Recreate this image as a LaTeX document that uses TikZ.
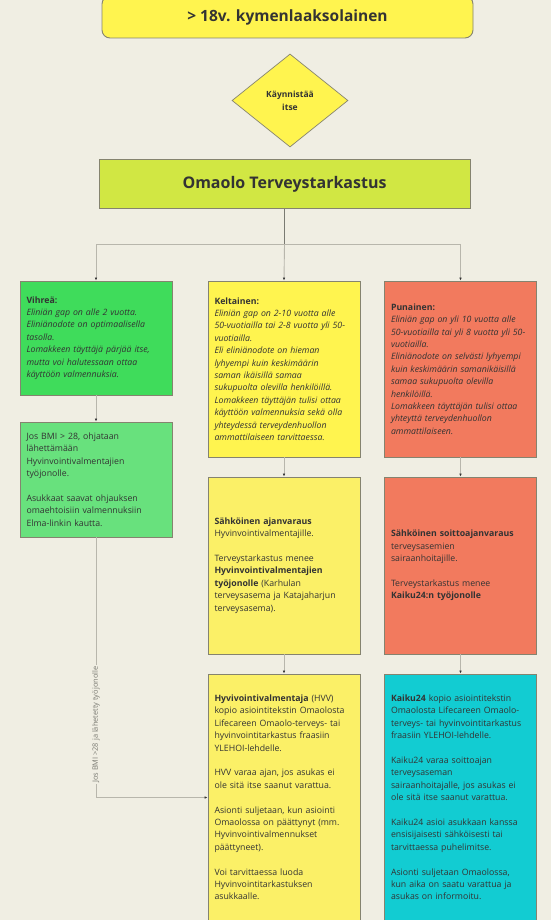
\documentclass[tikz,border=0pt]{standalone}
\usepackage{fontspec}
\setmainfont{Open Sans}
\usetikzlibrary{shapes.geometric,arrows.meta,calc}
\definecolor{bg}{HTML}{F0EEE3}
\definecolor{ylw}{HTML}{FFF44F}
\definecolor{ylwb}{HTML}{FBF067}
\definecolor{lime}{HTML}{D1E743}
\definecolor{grn}{HTML}{3FDC5B}
\definecolor{grnb}{HTML}{68E17D}
\definecolor{salm}{HTML}{F27A5E}
\definecolor{cyn}{HTML}{12CCD2}
\definecolor{bord}{HTML}{85836F}
\definecolor{txt}{HTML}{333333}
\definecolor{lnc}{HTML}{B8B6AC}
\definecolor{lnd}{HTML}{7A7A72}
\newcommand\bodyfnt{\fontsize{8.75}{12.4}\selectfont}
\begin{document}
\begin{tikzpicture}[x=1pt,y=-1pt,
  box/.style={draw=bord, line width=0.9pt, text width=139pt, align=left,
    inner sep=0pt, font=\bodyfnt, text=txt, minimum width=152pt},
  conn/.style={draw=lnc, line width=0.9pt, -{Latex[length=3pt,width=2.6pt,color=txt]}},
  lbl/.style={font=\fontsize{7.4}{8}\selectfont, text=lnd, fill=bg, inner sep=1.5pt}
]
\useasboundingbox (0,0) rectangle (551,920);
\fill[bg] (0,0) rectangle (551,920);
\clip (0,0) rectangle (551,920);

% top
\node[draw=bord, line width=0.9pt, fill=ylw, rounded corners=8pt, minimum width=371pt,
  minimum height=42pt, text=txt, font=\fontsize{15.5}{18}\selectfont\bfseries]
  (top) at (287.5,17) {> 18v. kymenlaaksolainen};

\node[draw=bord, line width=0.7pt, fill=ylw, shape=diamond, minimum width=116pt,
  minimum height=93pt, inner sep=0pt, align=center, text=txt,
  font=\fontsize{8.5}{13}\selectfont\bfseries] (dia) at (290,100.5) {Käynnistää\\itse};

\node[draw=bord, line width=0.9pt, fill=lime, minimum width=371pt, minimum height=49.5pt,
  text=txt, font=\fontsize{16}{19}\selectfont\bfseries] (oma) at (284.5,184) {Omaolo Terveystarkastus};

% column 1
\node[box, fill=grn, minimum height=114pt] (v1) at (96,338) {%
\textbf{Vihreä:}\\
\textit{Eliniän gap on alle 2 vuotta.}\\
\textit{Eliniänodote on optimaalisella}\\
\textit{tasolla.}\\
\textit{Lomakkeen täyttäjä pärjää itse,}\\
\textit{mutta voi halutessaan ottaa}\\
\textit{käyttöön valmennuksia.}};

\node[box, fill=grnb, minimum height=115pt] (v2) at (96,479.5) {%
Jos BMI > 28, ohjataan\\
lähettämään\\
Hyvinvointivalmentajien\\
työjonolle.\\
~\\
Asukkaat saavat ohjauksen\\
omaehtoisiin valmennuksiin\\
Elma-linkin kautta.};

% column 2
\node[box, fill=ylw, minimum height=176pt] (k1) at (284,369) {%
\textbf{Keltainen:}\\
\textit{Eliniän gap on 2-10 vuotta alle}\\
\textit{50-vuotiailla tai 2-8 vuotta yli 50-}\\
\textit{vuotiailla.}\\
\textit{Eli eliniänodote on hieman}\\
\textit{lyhyempi kuin keskimäärin}\\
\textit{saman ikäisillä samaa}\\
\textit{sukupuolta olevilla henkilöillä.}\\
\textit{Lomakkeen täyttäjän tulisi ottaa}\\
\textit{käyttöön valmennuksia sekä olla}\\
\textit{yhteydessä terveydenhuollon}\\
\textit{ammattilaiseen tarvittaessa.}};

\node[box, fill=ylwb, minimum height=177pt] (k2) at (284,565.5) {%
\textbf{Sähköinen ajanvaraus}\\
Hyvinvointivalmentajille.\\
~\\
Terveystarkastus menee\\
\textbf{Hyvinvointivalmentajien}\\
\textbf{työjonolle} (Karhulan\\
terveysasema ja Katajaharjun\\
terveysasema).};

\node[box, fill=ylwb, minimum height=247pt] (k3) at (284,797.5) {%
\textbf{Hyvivointivalmentaja} (HVV)\\
kopio asiointitekstin Omaolosta\\
Lifecareen Omaolo-terveys- tai\\
hyvinvointitarkastus fraasiin\\
YLEHOI-lehdelle.\\
~\\
HVV varaa ajan, jos asukas ei\\
ole sitä itse saanut varattua.\\
~\\
Asionti suljetaan, kun asiointi\\
Omaolossa on päättynyt (mm.\\
Hyvinvointivalmennukset\\
päättyneet).\\
~\\
Voi tarvittaessa luoda\\
Hyvinvointitarkastuksen\\
asukkaalle.};

% column 3
\node[box, fill=salm, minimum height=176pt] (p1) at (460.5,369) {%
\textbf{Punainen:}\\
\textit{Eliniän gap on yli 10 vuotta alle}\\
\mbox{\textit{50-vuotiailla tai yli 8 vuotta yli 50-}}\\
\textit{vuotiailla.}\\
\textit{Eliniänodote on selvästi lyhyempi}\\
\textit{kuin keskimäärin samanikäisillä}\\
\textit{samaa sukupuolta olevilla}\\
\textit{henkilöillä.}\\
\textit{Lomakkeen täyttäjän tulisi ottaa}\\
\textit{yhteyttä terveydenhuollon}\\
\textit{ammattilaiseen.}};

\node[box, fill=salm, minimum height=177pt] (p2) at (460.5,565.5) {%
\textbf{Sähköinen soittoajanvaraus}\\
terveysasemien\\
sairaanhoitajille.\\
~\\
Terveystarkastus menee\\
\textbf{Kaiku24:n työjonolle}};

\node[box, fill=cyn, minimum height=247pt] (p3) at (460.5,797.5) {%
\textbf{Kaiku24} kopio asiointitekstin\\
Omaolosta Lifecareen Omaolo-\\
terveys- tai hyvinvointitarkastus\\
fraasiin YLEHOI-lehdelle.\\
~\\
Kaiku24 varaa soittoajan\\
terveysaseman\\
sairaanhoitajalle, jos asukas ei\\
ole sitä itse saanut varattua.\\
~\\
Kaiku24 asioi asukkaan kanssa\\
ensisijaisesti sähköisesti tai\\
tarvittaessa puhelimitse.\\
~\\
Asionti suljetaan Omaolossa,\\
kun aika on saatu varattua ja\\
asukas on informoitu.};

% connectors
\coordinate (sp) at (284.5,244.3);
\draw[draw=lnd, line width=0.9pt] (oma.south) -- (sp);
\draw[conn] (sp) -| (v1.north);
\draw[conn] (sp) -| (p1.north);
\draw[conn] (sp) -- (k1.north);
\draw[conn] (v1.south) -- (v2.north);
\draw[conn] (k1.south) -- (k2.north);
\draw[conn] (k2.south) -- (k3.north);
\draw[conn] (p1.south) -- (p2.north);
\draw[conn] (p2.south) -- (p3.north);
\draw[conn] (v2.south) |- node[lbl, pos=0.36, rotate=90] {Jos BMI >28 ja lähetetty työjonolle} (k3.west);
\end{tikzpicture}
\end{document}
